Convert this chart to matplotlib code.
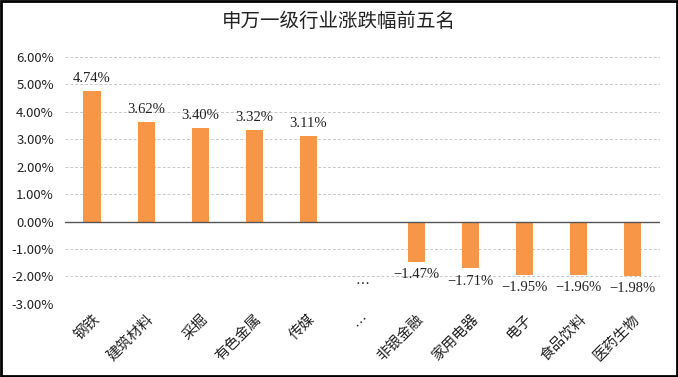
import matplotlib
matplotlib.use("Agg")
import matplotlib.pyplot as plt
import numpy as np
from matplotlib.ticker import FuncFormatter, MultipleLocator
from matplotlib.patches import Rectangle

plt.rcParams['font.family'] = ['Noto Sans CJK SC', 'DejaVu Sans']
plt.rcParams['axes.unicode_minus'] = False

title = "申万一级行业涨跌幅前五名"
categories = ["钢铁", "建筑材料", "采掘", "有色金属", "传媒", "…",
              "非银金融", "家用电器", "电子", "食品饮料", "医药生物"]
values = [4.74, 3.62, 3.40, 3.32, 3.11, np.nan, -1.47, -1.71, -1.95, -1.96, -1.98]

bar_color = "#F79646"

fig = plt.figure(figsize=(6.78, 3.77), dpi=100)
ax = fig.add_axes([0.096, 0.194, 0.877, 0.655])

x = np.arange(len(categories))
ax.bar(x, np.nan_to_num(values), width=0.32, color=bar_color, zorder=3)

for xi, v in zip(x, values):
    if np.isnan(v):
        ax.text(xi, -2.3, "…", ha="center", va="center", fontsize=10, color="#222222")
        continue
    if v >= 0:
        ax.text(xi, v + 0.22, f"{v:.2f}%", ha="center", va="bottom", fontsize=10.5,
                color="#222222", family="Liberation Serif")
    else:
        ax.text(xi, v - 0.22, f"{v:.2f}%".replace("-", "−"), ha="center", va="top", fontsize=10.5,
                color="#222222", family="Liberation Serif")

ax.set_xlim(-0.5, len(categories) - 0.5)
ax.set_ylim(-3, 6)
ax.yaxis.set_major_locator(MultipleLocator(1))
ax.yaxis.set_major_formatter(FuncFormatter(lambda v, p: f"{v:.2f}%"))
ax.grid(axis="y", color="#C8C8C8", linestyle=(0, (3, 2)), linewidth=0.7, zorder=0)
ax.axhline(0, color="#555555", linewidth=1.0, zorder=4)

for s in ax.spines.values():
    s.set_visible(False)
ax.tick_params(axis="both", length=0, labelsize=9.5, colors="#222222")
ax.tick_params(axis="y", pad=8)
ax.set_xticks(x)
ax.set_xticklabels(categories, rotation=45, ha="right", rotation_mode="anchor", fontsize=10.5)
ax.tick_params(axis="x", pad=6)

fig.text(0.5, 0.942, title, ha="center", va="center", fontsize=14, color="#222222")

fig.patches.append(Rectangle((0.002, 0.003), 0.996, 0.994, transform=fig.transFigure,
                             fill=False, edgecolor="black", linewidth=2))

fig.savefig("out.png", dpi=100)
